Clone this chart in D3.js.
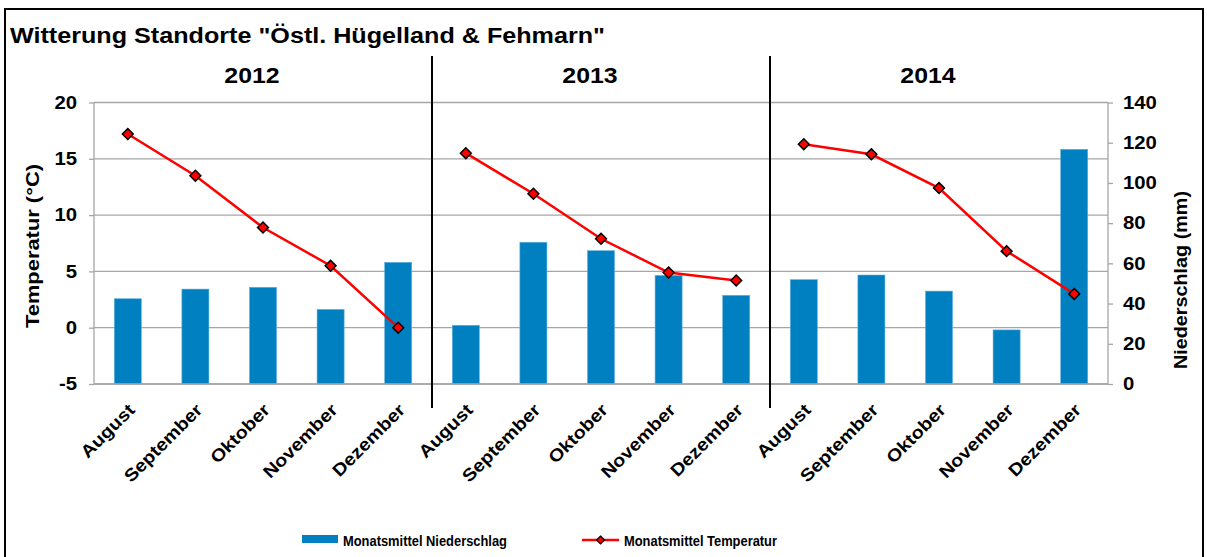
<!DOCTYPE html>
<html><head><meta charset="utf-8">
<script src="https://cdn.jsdelivr.net/npm/d3@7"></script>
<style>
body{margin:0;background:#fff;}
svg{display:block;font-family:"Liberation Sans",Arial,sans-serif;font-weight:bold;}
</style></head>
<body><svg id="c" width="1207" height="557"></svg>
<script>
const years = ["2012","2013","2014"];
const months = ["August","September","Oktober","November","Dezember"];
const precip2012 = [42.4, 47.2, 48.1, 37.1, 60.5];
const precip2013 = [29.2, 70.5, 66.3, 54.0, 44.1];
const precip2014 = [51.9, 54.2, 46.2, 26.9, 116.7];
const temp2012 = [17.2, 13.5, 8.9, 5.5, 0.0];
const temp2013 = [15.5, 11.9, 7.9, 4.9, 4.2];
const temp2014 = [16.3, 15.4, 12.4, 6.8, 3.0];
const tempTicks = [-5, 0, 5, 10, 15, 20];
const precipTicks = [0, 20, 40, 60, 80, 100, 120, 140];
const title = 'Witterung Standorte "Östl. Hügelland & Fehmarn"';
const leftTitle = "Temperatur (°C)";
const rightTitle = "Niederschlag (mm)";
const legendBar = "Monatsmittel Niederschlag";
const legendLine = "Monatsmittel Temperatur";

const precip = [precip2012, precip2013, precip2014];
const temp = [temp2012, temp2013, temp2014];
const data = [];
years.forEach((y, yi) => months.forEach((m, mi) => data.push({key: y + "-" + m, year: y, month: m, p: precip[yi][mi], t: temp[yi][mi]})));

const svg = d3.select("#c");
const L = 94, R = 1108, T = 102.5, B = 384;
const SX = 1.13;

svg.append("rect").attr("x", 5).attr("y", 9).attr("width", 1198).attr("height", 560)
  .attr("fill", "#fff").attr("stroke", "#000").attr("stroke-width", 2);

svg.append("text").attr("x", 10).attr("y", 43).attr("font-size", 21.5)
  .attr("textLength", 595).attr("lengthAdjust", "spacingAndGlyphs").text(title);

const x = d3.scaleBand().domain(data.map(d => d.key)).range([L, R]).padding(0);
const yT = d3.scaleLinear().domain([-5, 20]).range([B, T]);
const yP = d3.scaleLinear().domain([0, 140]).range([B, T]);

// grid
svg.append("g").selectAll("line").data(tempTicks).join("line")
  .attr("x1", L).attr("x2", R).attr("y1", d => yT(d)).attr("y2", d => yT(d))
  .attr("stroke", "#a6a6a6").attr("stroke-width", 1.3);

// bars
const bw = x.bandwidth() * 0.4;
svg.append("g").selectAll("rect").data(data).join("rect")
  .attr("x", d => x(d.key) + x.bandwidth() / 2 - bw / 2)
  .attr("width", bw)
  .attr("y", d => yP(d.p))
  .attr("height", d => yP(0) - yP(d.p))
  .attr("fill", "#0080c0").attr("stroke", "#5fb0dc").attr("stroke-width", 0.6);

// axes
const fmt = d => String(d);
const gl = svg.append("g").attr("transform", `translate(${L},0)`)
  .call(d3.axisLeft(yT).tickValues(tempTicks).tickFormat(fmt).tickSize(5).tickPadding(12));
const gr = svg.append("g").attr("transform", `translate(${R},0)`)
  .call(d3.axisRight(yP).tickValues(precipTicks).tickFormat(fmt).tickSize(5).tickPadding(15));
[gl, gr].forEach(g => {
  g.selectAll("path,line").attr("stroke", "#a6a6a6").attr("stroke-width", 1.3);
  g.selectAll("text").attr("font-size", 18).attr("font-family", "Liberation Sans, Arial").attr("font-weight", "bold").attr("fill", "#000");
});
gl.selectAll("text").attr("x", 0).attr("transform", `translate(-17,0) scale(${SX},1)`);
gr.selectAll("text").attr("x", 0).attr("transform", `translate(15,0) scale(${SX},1)`);
gl.select(".domain").attr("d", `M0,${B}V${T}`);
gr.select(".domain").attr("d", `M0,${B}V${T}`);

// bottom axis line
svg.append("line").attr("x1", L).attr("x2", R).attr("y1", B).attr("y2", B).attr("stroke", "#a6a6a6").attr("stroke-width", 1.3);

// x labels
svg.append("g").selectAll("text").data(data).join("text")
  .attr("transform", d => `translate(${x(d.key) + x.bandwidth() / 2 + 8},${B + 27}) rotate(-45) scale(${SX},1)`)
  .attr("text-anchor", "end").attr("font-size", 17.5).text(d => d.month);

// year separators
[1, 2].forEach(i => {
  const xs = x(years[i] + "-" + months[0]);
  svg.append("line").attr("x1", xs).attr("x2", xs).attr("y1", 56).attr("y2", 408)
    .attr("stroke", "#000").attr("stroke-width", 2);
});
// year labels
years.forEach(y => {
  const x0 = x(y + "-" + months[0]), x1 = x(y + "-" + months[4]) + x.bandwidth();
  svg.append("text").attr("transform", `translate(${(x0 + x1) / 2 - 11},83) scale(${SX},1)`).attr("text-anchor", "middle")
    .attr("font-size", 22).text(y);
});

// lines per year
const line = d3.line().x(d => x(d.key) + x.bandwidth() / 2).y(d => yT(d.t));
years.forEach(y => {
  const sub = data.filter(d => d.year === y);
  svg.append("path").datum(sub).attr("d", line).attr("fill", "none").attr("stroke", "#ff0000").attr("stroke-width", 2.5);
});
const diamond = d3.symbol().type(d3.symbolDiamond2).size(75);
svg.append("g").selectAll("path").data(data).join("path")
  .attr("transform", d => `translate(${x(d.key) + x.bandwidth() / 2},${yT(d.t)})`)
  .attr("d", diamond).attr("fill", "#ff0000").attr("stroke", "#000").attr("stroke-width", 1.5);

// axis titles
svg.append("text").attr("transform", `translate(39,246) rotate(-90)`)
  .attr("text-anchor", "middle").attr("font-size", 18).attr("textLength", 164).attr("lengthAdjust", "spacingAndGlyphs").text(leftTitle);
svg.append("text").attr("transform", `translate(1187,280) rotate(-90)`)
  .attr("text-anchor", "middle").attr("font-size", 18).attr("textLength", 178).attr("lengthAdjust", "spacingAndGlyphs").text(rightTitle);

// legend
svg.append("rect").attr("x", 302).attr("y", 535).attr("width", 36).attr("height", 8).attr("fill", "#0080c0");
svg.append("text").attr("x", 343).attr("y", 546).attr("font-size", 15)
  .attr("textLength", 164).attr("lengthAdjust", "spacingAndGlyphs").text(legendBar);
svg.append("line").attr("x1", 582).attr("x2", 619).attr("y1", 540).attr("y2", 540).attr("stroke", "#ff0000").attr("stroke-width", 2.5);
svg.append("path").attr("transform", "translate(600.5,540)").attr("d", d3.symbol().type(d3.symbolDiamond2).size(40))
  .attr("fill", "#ff0000").attr("stroke", "#000").attr("stroke-width", 1.2);
svg.append("text").attr("x", 624).attr("y", 546).attr("font-size", 15)
  .attr("textLength", 153).attr("lengthAdjust", "spacingAndGlyphs").text(legendLine);
</script></body></html>
